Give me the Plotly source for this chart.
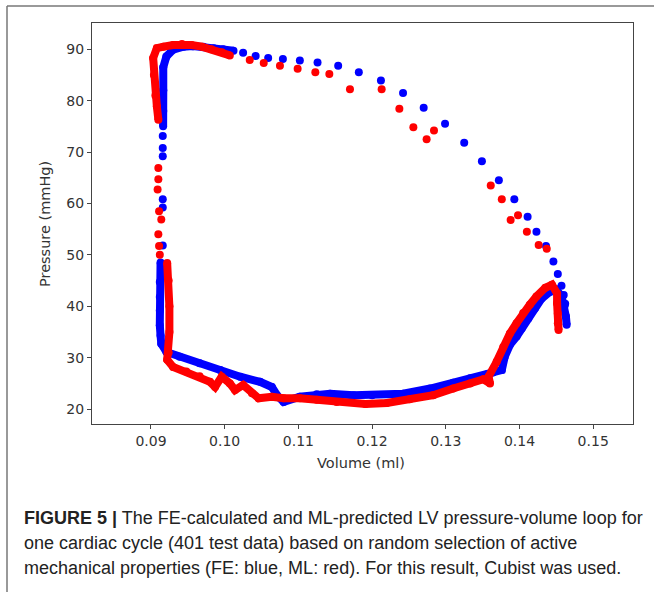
import plotly.graph_objects as go

# ---------------- data ----------------
# FE (blue) - dense segments (drawn as a continuous band of dots)
fe_top_vol = [0.1012, 0.0998, 0.0985, 0.0971, 0.0957, 0.0944, 0.0930, 0.0921, 0.09167, 0.09167, 0.09167, 0.09165]
fe_top_p   = [89.7, 90.0, 90.2, 90.5, 90.6, 90.5, 89.9, 88.6, 86.5, 82.0, 78.0, 75.0]

fe_low_vol = [0.0913, 0.0912, 0.0912, 0.0912, 0.0912, 0.0913, 0.0914, 0.0921, 0.0939, 0.0966, 0.0994,
              0.1021, 0.1048, 0.1064, 0.1071, 0.1080, 0.1102, 0.1125, 0.1143, 0.1175, 0.1200, 0.1242,
              0.1279, 0.1310, 0.1333, 0.1356, 0.1364, 0.1376, 0.1380, 0.1387, 0.1396, 0.1403, 0.1412,
              0.1421, 0.1430, 0.1441, 0.1450, 0.1457, 0.1461, 0.1463, 0.1464]
fe_low_p   = [48.5, 44.7, 41.8, 39.2, 36.3, 34.3, 32.7, 31.1, 30.2, 28.9, 27.6,
              26.3, 25.3, 24.3, 22.7, 21.4, 22.4, 22.9, 23.0, 22.7, 22.7, 23.0,
              24.0, 25.1, 26.0, 26.8, 27.1, 27.6, 30.2, 32.5, 34.1, 35.7, 37.6,
              39.6, 41.5, 42.8, 43.2, 42.0, 40.0, 38.0, 36.4]

# FE (blue) - isolated dots (ejection arc and sparse left points)
fe_dot_vol = [0.1462, 0.1460, 0.1457, 0.1452, 0.1446, 0.1436, 0.1423, 0.1411, 0.1393, 0.1372, 0.1349,
              0.1325, 0.1299, 0.1270, 0.1242, 0.1212, 0.1182, 0.1154, 0.1126, 0.1102, 0.1079,
              0.1059, 0.1042, 0.1025,
              0.0916, 0.0916, 0.0916, 0.0916, 0.0916, 0.0916]
fe_dot_p   = [40.5, 42.2, 44.0, 46.3, 48.7, 51.7, 54.5, 57.4, 60.8, 64.5, 68.2,
              71.8, 75.5, 78.6, 81.5, 83.9, 85.5, 86.8, 87.4, 87.8, 88.1,
              88.3, 88.7, 89.3,
              73.1, 70.8, 69.2, 60.8, 59.2, 51.8]

# ML (red) - dense segments
ml_top_vol = [0.1007, 0.0996, 0.0982, 0.0969, 0.0955, 0.0942, 0.0930, 0.0917, 0.0908, 0.0903,
              0.0904, 0.0906, 0.0908, 0.0910]
ml_top_p   = [88.8, 89.4, 90.0, 90.5, 90.8, 91.0, 90.8, 90.5, 90.2, 88.3,
              85.0, 81.0, 78.9, 76.3]

ml_low_vol = [0.0922, 0.0924, 0.0925, 0.0925, 0.0924, 0.0922, 0.0930, 0.0948, 0.0966, 0.0980,
              0.0987, 0.0996, 0.1007, 0.1014, 0.1025, 0.1037, 0.1046, 0.1064, 0.1080, 0.1102,
              0.1125, 0.1152, 0.1191, 0.1220, 0.1251, 0.1283, 0.1310, 0.1333, 0.1351, 0.1360,
              0.1358, 0.1369, 0.1378, 0.1387, 0.1396, 0.1405, 0.1414, 0.1423, 0.1435, 0.1444,
              0.1451, 0.1451, 0.1452, 0.1452, 0.1453]
ml_low_p   = [48.4, 45.0, 40.0, 35.0, 31.0, 29.6, 28.2, 27.3, 26.4, 25.3,
              24.3, 26.3, 25.0, 23.7, 24.7, 23.1, 22.1, 22.4, 22.1, 22.1,
              21.8, 21.4, 21.0, 21.2, 21.9, 22.7, 24.0, 25.0, 25.8, 25.0,
              26.3, 29.2, 32.1, 34.7, 36.7, 38.7, 40.3, 41.9, 43.6, 44.2,
              42.5, 40.6, 38.6, 36.7, 35.4]

# ML (red) - isolated dots
ml_dot_vol = [0.1437, 0.1426, 0.1410, 0.1398, 0.1388, 0.1376, 0.1361, 0.1284, 0.1274, 0.1256,
              0.1237, 0.1213, 0.1170, 0.1142, 0.1123, 0.1099, 0.1075, 0.1053, 0.1034,
              0.0910, 0.0910, 0.0909, 0.0911, 0.0914, 0.0910, 0.0911, 0.0912]
ml_dot_p   = [51.2, 51.9, 54.5, 57.7, 56.8, 60.8, 63.5, 74.2, 72.5, 74.8,
              78.4, 82.2, 82.2, 85.2, 85.5, 86.2, 86.8, 87.3, 87.9,
              66.9, 64.7, 62.7, 58.5, 56.9, 54.0, 51.7, 50.0]

x_ticks = [0.09, 0.10, 0.11, 0.12, 0.13, 0.14, 0.15]
x_tick_labels = ["0.09", "0.10", "0.11", "0.12", "0.13", "0.14", "0.15"]
y_ticks = [20, 30, 40, 50, 60, 70, 80, 90]

BLUE = "#0000ff"
RED = "#ff0000"

fig = go.Figure()

def band(vol, p, color):
    fig.add_trace(go.Scatter(x=vol, y=p, mode="lines+markers",
                             line=dict(color=color, width=8),
                             marker=dict(color=color, size=8),
                             hoverinfo="skip", showlegend=False))

def dots(vol, p, color):
    fig.add_trace(go.Scatter(x=vol, y=p, mode="markers",
                             marker=dict(color=color, size=8),
                             hoverinfo="skip", showlegend=False))

band(fe_top_vol, fe_top_p, BLUE)
band(fe_low_vol, fe_low_p, BLUE)
dots(fe_dot_vol, fe_dot_p, BLUE)
band(ml_top_vol, ml_top_p, RED)
band(ml_low_vol, ml_low_p, RED)
dots(ml_dot_vol, ml_dot_p, RED)

W, H = 654, 592
L, R, T, B = 92, 633, 23, 424

def px(xp):
    return (xp - L) / (R - L)

def py(yp):
    return (B - yp) / (B - T)

axis_common = dict(showline=True, mirror=True, linecolor="#444", linewidth=1.2,
                   ticks="outside", ticklen=4, tickwidth=1, tickcolor="#444",
                   showgrid=False, zeroline=False,
                   tickfont=dict(family="DejaVu Sans", size=14, color="#333"))

cap_font = dict(family="Liberation Sans", size=18, color="#222")

fig.update_layout(
    width=W, height=H, autosize=False,
    margin=dict(l=L, r=W - R, t=T, b=H - B),
    paper_bgcolor="white", plot_bgcolor="white",
    xaxis=dict(range=[0.0820, 0.1554], tickvals=x_ticks, ticktext=x_tick_labels, **axis_common),
    yaxis=dict(range=[17.1, 95.1], tickvals=y_ticks, **axis_common),
    annotations=[
        dict(text="Volume (ml)", x=px(361), y=py(463), xref="paper", yref="paper",
             showarrow=False, xanchor="center", yanchor="middle",
             font=dict(family="DejaVu Sans", size=14.5, color="#333")),
        dict(text="Pressure (mmHg)", x=px(45), y=py(224), xref="paper", yref="paper",
             showarrow=False, xanchor="center", yanchor="middle", textangle=-90,
             font=dict(family="DejaVu Sans", size=14.5, color="#333")),
        dict(text="<b>FIGURE 5 |</b> The FE-calculated and ML-predicted LV pressure-volume loop for",
             x=px(22), y=py(518), xref="paper", yref="paper", showarrow=False,
             xanchor="left", yanchor="middle", font=cap_font),
        dict(text="one cardiac cycle (401 test data) based on random selection of active",
             x=px(22), y=py(543), xref="paper", yref="paper", showarrow=False,
             xanchor="left", yanchor="middle", font=cap_font),
        dict(text="mechanical properties (FE: blue, ML: red). For this result, Cubist was used.",
             x=px(22), y=py(568), xref="paper", yref="paper", showarrow=False,
             xanchor="left", yanchor="middle", font=cap_font),
    ],
    shapes=[
        dict(type="line", xref="paper", yref="paper",
             x0=px(7), x1=px(654), y0=py(6), y1=py(6),
             line=dict(color="#777", width=1.5), layer="above"),
        dict(type="line", xref="paper", yref="paper",
             x0=px(7), x1=px(7), y0=py(6), y1=py(592),
             line=dict(color="#777", width=1.5), layer="above"),
    ],
)

fig.write_html("out.html", config={"displayModeBar": False},
               post_script="document.body.style.margin='0';")
